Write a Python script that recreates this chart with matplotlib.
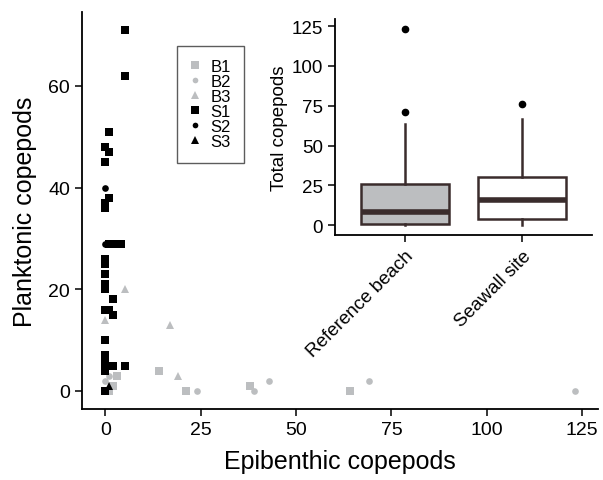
import matplotlib
matplotlib.use("Agg")
import matplotlib.pyplot as plt

plt.rcParams['font.family'] = ['Liberation Sans', 'DejaVu Sans']

# scatter data: epibenthic (x) vs planktonic (y) copepods per site
b1_x = [14, 3, 21, 38, 64, 2, 1]
b1_y = [4, 3, 0, 1, 0, 1, 0]
b2_x = [1, 24, 39, 43, 69, 123, 0, 0, 1]
b2_y = [3, 0, 0, 2, 2, 0, 2, 0, 0]
b3_x = [5, 0, 17, 19]
b3_y = [20, 14, 13, 3]
s1_x = [5, 5, 1, 0, 1, 0, 1, 0, 0, 1, 2, 3, 4, 0, 0, 0, 0, 0, 2, 0, 1, 2, 0, 0, 0, 0, 2, 5, 0, 0]
s1_y = [71, 62, 51, 48, 47, 45, 38, 37, 36, 29, 29, 29, 29, 26, 25, 23, 21, 20, 18, 16, 16, 15, 10, 7, 6, 5, 5, 5, 4, 0]
s2_x = [0, 0, 0]
s2_y = [40, 29, 16]
s3_x = [1]
s3_y = [1]

# boxplot summary for total copepods
box_labels = ["Reference beach", "Seawall site"]
box_q1 = [1, 4]
box_med = [8, 16]
box_q3 = [26, 30]
box_lo = [0, 0]
box_hi = [63.5, 66.5]
box_out = [[71, 123], [76]]

grey = '#bcbec0'
edge = '#3a2c2c'

fig = plt.figure(figsize=(6.03, 4.81), dpi=100)
ax = fig.add_axes([0.136, 0.1476, 0.8557, 0.8254])

groups = [
    ("B1", b1_x, b1_y, grey, 's', 6.0),
    ("B2", b2_x, b2_y, grey, 'o', 4.8),
    ("B3", b3_x, b3_y, grey, '^', 6.0),
    ("S1", s1_x, s1_y, 'black', 's', 6.0),
    ("S2", s2_x, s2_y, 'black', 'o', 4.8),
    ("S3", s3_x, s3_y, 'black', '^', 6.0),
]
for name, xs, ys, col, mk, ms in groups:
    ax.plot(xs, ys, linestyle='none', marker=mk, color=col, markersize=ms,
            markeredgewidth=0, label=name)

ax.set_xlim(-6.15, 129.15)
ax.set_ylim(-3.55, 74.55)
ax.set_xticks([0, 25, 50, 75, 100, 125])
ax.set_yticks([0, 20, 40, 60])
for s in ['top', 'right']:
    ax.spines[s].set_visible(False)
for s in ['left', 'bottom']:
    ax.spines[s].set_linewidth(1.3)
ax.tick_params(labelsize=14, width=1.1, length=5, colors='black')
ax.set_xlabel("Epibenthic copepods", fontsize=18, labelpad=8)
ax.set_ylabel("Planktonic copepods", fontsize=18, labelpad=8)

leg = ax.legend(loc='upper left', bbox_to_anchor=(0.2935, 0.9023),
                bbox_transform=fig.transFigure, fontsize=12, frameon=True,
                fancybox=False, handlelength=0.6, handletextpad=0.6,
                labelspacing=0.0, borderpad=0.8, borderaxespad=0,
                markerscale=0.85)
leg.get_frame().set_edgecolor('#333333')
leg.get_frame().set_linewidth(1.0)

# inset boxplot
ins = fig.add_axes([0.5556, 0.5094, 0.4262, 0.4482])
stats = []
for i in range(len(box_labels)):
    stats.append(dict(med=box_med[i], q1=box_q1[i], q3=box_q3[i],
                      whislo=box_lo[i], whishi=box_hi[i], fliers=box_out[i],
                      label=box_labels[i]))
bp = ins.bxp(stats, positions=[1, 2], widths=0.75, patch_artist=True,
             showcaps=False,
             boxprops=dict(edgecolor=edge, linewidth=1.8),
             whiskerprops=dict(color=edge, linewidth=1.8),
             medianprops=dict(color=edge, linewidth=4),
             flierprops=dict(marker='o', markerfacecolor='black',
                             markeredgecolor='black', markersize=4.5))
bp['boxes'][0].set_facecolor(grey)
bp['boxes'][1].set_facecolor('white')
ins.set_xlim(0.4, 2.6)
ins.set_ylim(-6.15, 129.15)
ins.set_yticks([0, 25, 50, 75, 100, 125])
for s in ['top', 'right']:
    ins.spines[s].set_visible(False)
for s in ['left', 'bottom']:
    ins.spines[s].set_linewidth(1.3)
ins.tick_params(labelsize=13.5, width=1.1, length=5, colors='black')
ins.set_xticks([1, 2])
ins.set_xticklabels(box_labels, rotation=45, ha='right', va='top',
                    rotation_mode='anchor')
ins.set_ylabel("Total copepods", fontsize=13.5, labelpad=3)
ins.patch.set_alpha(0)

fig.savefig("out.png", dpi=100)
